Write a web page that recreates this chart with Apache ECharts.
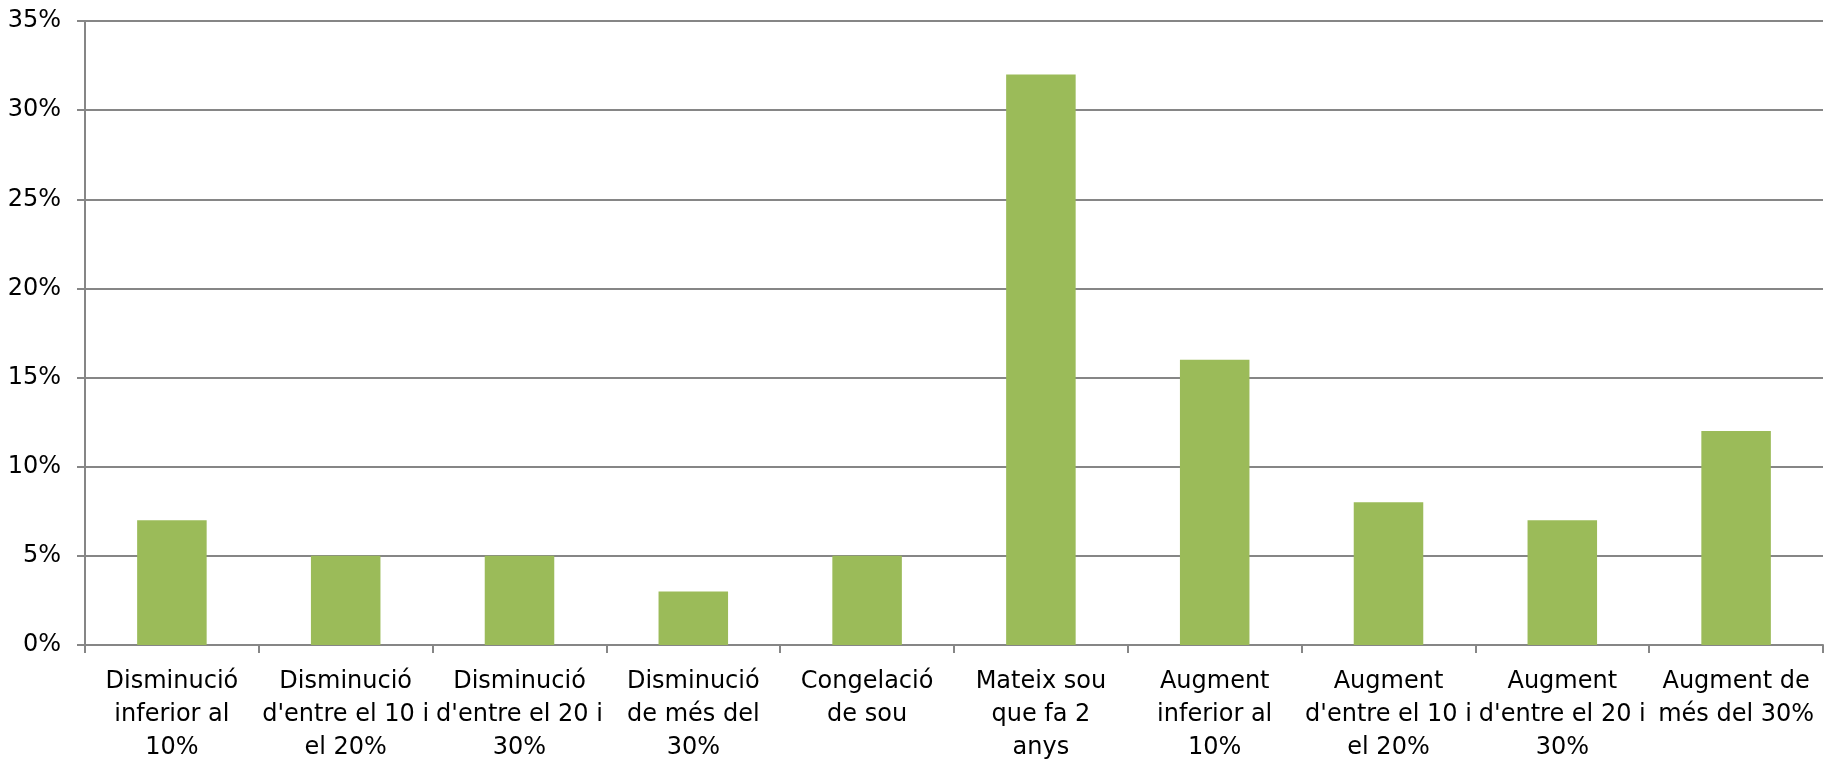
<!DOCTYPE html>
<html><head><meta charset="utf-8">
<script src="https://cdn.jsdelivr.net/npm/echarts@6/dist/echarts.min.js"></script>
<style>html,body{margin:0;padding:0;background:#fff}#c{width:1833px;height:764px}</style>
</head><body><div id="c"></div>
<script>
const categories = [
  "Disminució\ninferior al\n10%",
  "Disminució\nd'entre el 10 i\nel 20%",
  "Disminució\nd'entre el 20 i\n30%",
  "Disminució\nde més del\n30%",
  "Congelació\nde sou",
  "Mateix sou\nque fa 2\nanys",
  "Augment\ninferior al\n10%",
  "Augment\nd'entre el 10 i\nel 20%",
  "Augment\nd'entre el 20 i\n30%",
  "Augment de\nmés del 30%"
];
const values = [7, 5, 5, 3, 5, 32, 16, 8, 7, 12];
const yTicks = [0, 5, 10, 15, 20, 25, 30, 35];

const chart = echarts.init(document.getElementById('c'));
chart.setOption({
  animation: false,
  grid: {left: 85, right: 10, top: 21, bottom: 114, containLabel: false},
  xAxis: {
    type: 'category',
    data: categories,
    axisLine: {lineStyle: {color: '#868686', width: 2}},
    axisTick: {show: true, length: 8, lineStyle: {color: '#868686', width: 2}},
    axisLabel: {interval: 0, color: '#000', fontFamily: 'DejaVu Sans', fontSize: 24, lineHeight: 33, margin: 20}
  },
  yAxis: {
    type: 'value',
    min: yTicks[0], max: yTicks[yTicks.length - 1], interval: 5,
    axisLine: {show: true, lineStyle: {color: '#868686', width: 2}},
    axisTick: {show: true, length: 8, lineStyle: {color: '#868686', width: 2}},
    splitLine: {lineStyle: {color: '#868686', width: 2}},
    axisLabel: {color: '#000', fontFamily: 'DejaVu Sans', fontSize: 24, margin: 24, formatter: '{value}%'}
  },
  series: [{
    type: 'bar',
    data: values,
    barWidth: '40%',
    itemStyle: {color: '#9BBB59'}
  }]
});
</script></body></html>
